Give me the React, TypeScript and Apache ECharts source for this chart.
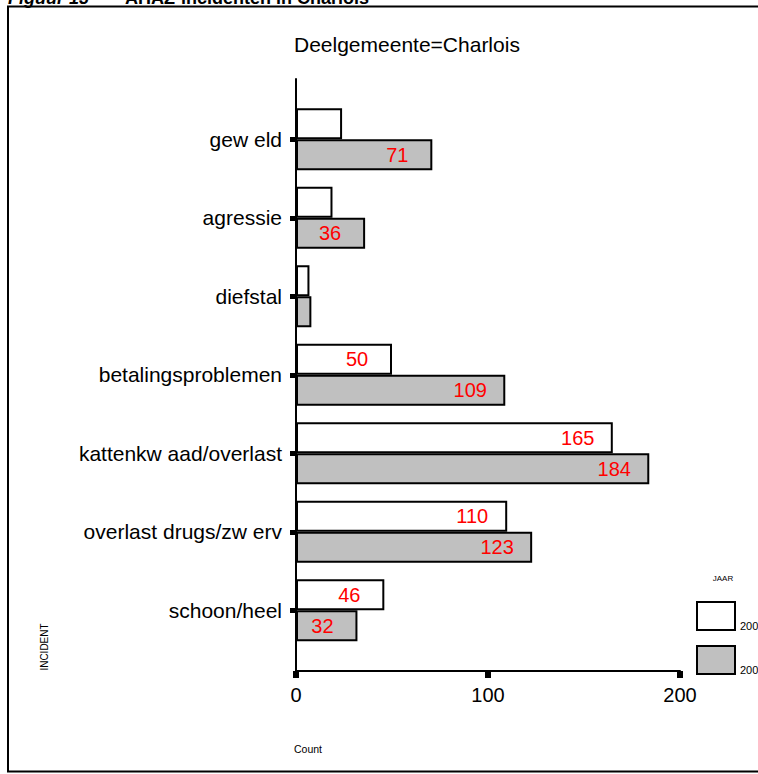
import React, { useEffect, useRef } from 'react';
import * as echarts from 'echarts';

const categories = [
  'gew eld',
  'agressie',
  'diefstal',
  'betalingsproblemen',
  'kattenkw aad/overlast',
  'overlast drugs/zw erv',
  'schoon/heel',
];
const seriesNames = ['2007', '2008'];
const valuesFirst = [24, 19, 7, 50, 165, 110, 46];
const valuesSecond = [71, 36, 8, 109, 184, 123, 32];
const xMin = 0;
const xMax = 200;
const xInterval = 100;
const chartTitle = 'Deelgemeente=Charlois';
const captionLeft = 'Figuur 13';
const captionRight = 'AHAZ-incidenten in Charlois';
const yAxisName = 'INCIDENT';
const xAxisName = 'Count';
const legendTitle = 'JAAR';
const labelThreshold = 30;

const FONT = '"Liberation Sans", Arial, Helvetica, sans-serif';

export default function App() {
  const ref = useRef<HTMLDivElement>(null);

  useEffect(() => {
    if (!ref.current) return;
    const chart = echarts.init(ref.current, undefined, { renderer: 'svg' });

    const barLabel = {
      show: true,
      position: 'insideRight',
      distance: 35,
      align: 'center',
      color: '#ff0000',
      fontSize: 20,
      fontFamily: FONT,
      formatter: (p: any) => (p.value >= labelThreshold ? String(p.value) : ''),
    };

    const option: any = {
      animation: false,
      backgroundColor: '#ffffff',
      textStyle: { fontFamily: FONT },
      title: {
        text: chartTitle,
        left: 289,
        top: 29,
        textStyle: { fontFamily: FONT, fontSize: 21, fontWeight: 'normal', color: '#000' },
      },
      legend: {
        orient: 'vertical',
        left: 691,
        top: 596,
        itemWidth: 38,
        itemHeight: 28,
        itemGap: 14,
        icon: 'rect',
        selectedMode: false,
        data: seriesNames,
        formatter: '{a|{name}}',
        textStyle: {
          fontFamily: FONT,
          fontSize: 11,
          color: '#000',
          rich: { a: { fontFamily: FONT, fontSize: 11, color: '#000', padding: [19, 0, 0, 0] } },
        },
      },
      grid: [
        { left: 296, right: 78, top: 100, bottom: 124.5 },
        { left: 296, right: 78, top: 79, bottom: 103 },
      ],
      xAxis: [
        { gridIndex: 0, type: 'value', min: xMin, max: xMax, show: false },
        {
          gridIndex: 1,
          type: 'value',
          min: xMin,
          max: xMax,
          interval: xInterval,
          axisLine: { show: true, lineStyle: { color: '#000', width: 2 } },
          axisTick: { show: true, length: 7, lineStyle: { color: '#000', width: 6 } },
          axisLabel: { fontSize: 20, color: '#000', margin: 14, fontFamily: FONT },
          splitLine: { show: false },
        },
      ],
      yAxis: [
        {
          gridIndex: 0,
          type: 'category',
          data: categories,
          inverse: true,
          axisLine: { show: false },
          axisTick: { show: true, alignWithLabel: true, length: 6, lineStyle: { color: '#000', width: 5 } },
          axisLabel: { fontSize: 21, color: '#000', margin: 14, interval: 0, fontFamily: FONT },
          splitLine: { show: false },
        },
        {
          gridIndex: 1,
          type: 'value',
          min: 0,
          max: 1,
          axisLine: { show: true, lineStyle: { color: '#000', width: 2 } },
          axisTick: { show: false },
          axisLabel: { show: false },
          splitLine: { show: false },
        },
      ],
      series: [
        {
          name: seriesNames[0],
          type: 'bar',
          xAxisIndex: 0,
          yAxisIndex: 0,
          data: valuesFirst,
          barWidth: 31,
          barGap: '0%',
          itemStyle: { color: '#ffffff', borderColor: '#000', borderWidth: 2 },
          label: barLabel,
        },
        {
          name: seriesNames[1],
          type: 'bar',
          xAxisIndex: 0,
          yAxisIndex: 0,
          data: valuesSecond,
          barWidth: 31,
          barGap: '0%',
          itemStyle: { color: '#c0c0c0', borderColor: '#000', borderWidth: 2 },
          label: barLabel,
        },
      ],
      graphic: [
        {
          type: 'rect',
          shape: { x: 8, y: 6.5, width: 800, height: 765 },
          style: { fill: 'none', stroke: '#000', lineWidth: 2 },
          silent: true,
        },
        {
          type: 'text',
          x: 8,
          y: 7,
          style: {
            text: captionLeft,
            fontFamily: FONT,
            fontSize: 18,
            fontWeight: 'bold',
            fontStyle: 'italic',
            fill: '#000',
            verticalAlign: 'bottom',
          },
        },
        {
          type: 'text',
          x: 125,
          y: 7,
          style: {
            text: captionRight,
            fontFamily: FONT,
            fontSize: 18,
            fontWeight: 'bold',
            fill: '#000',
            verticalAlign: 'bottom',
          },
        },
        {
          type: 'text',
          x: 44,
          y: 647,
          rotation: Math.PI / 2,
          style: {
            text: yAxisName,
            fontFamily: FONT,
            fontSize: 10,
            fill: '#000',
            align: 'center',
            verticalAlign: 'middle',
          },
        },
        {
          type: 'text',
          x: 294,
          y: 749,
          style: {
            text: xAxisName,
            fontFamily: FONT,
            fontSize: 10.5,
            fill: '#000',
            align: 'left',
            verticalAlign: 'middle',
          },
        },
        {
          type: 'text',
          x: 723,
          y: 578,
          style: {
            text: legendTitle,
            fontFamily: FONT,
            fontSize: 8,
            fill: '#000',
            align: 'center',
            verticalAlign: 'middle',
          },
        },
      ],
    };

    chart.setOption(option);
    return () => chart.dispose();
  }, []);

  return (
    <div
      ref={ref}
      style={{ position: 'fixed', left: 0, top: 0, width: 758, height: 774, background: '#fff' }}
    />
  );
}
